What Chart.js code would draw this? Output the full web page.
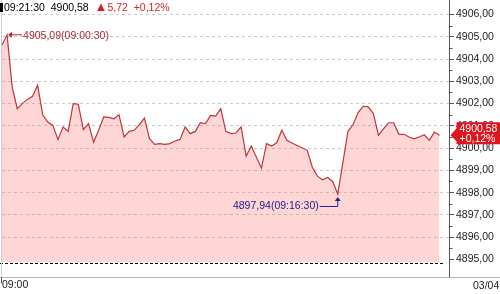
<!DOCTYPE html>
<html>
<head>
<meta charset="utf-8">
<script src="https://cdn.jsdelivr.net/npm/chart.js@4.4.1/dist/chart.umd.min.js"></script>
<style>
html, body { margin: 0; padding: 0; background: #fff; }
#wrap { position: relative; width: 500px; height: 294px; overflow: hidden;
        font-family: "Liberation Sans", Arial, sans-serif; font-size: 10.5px; }
#chart { position: absolute; left: 0; top: 0; }
#head { position: absolute; left: 0; top: 1px; height: 12px; line-height: 12px; white-space: nowrap; }
#head .bar { display: inline-block; width: 3px; height: 9px; background: #000; vertical-align: -1px; margin-right: 1px; }
#head .up { color: #d81e24; }
#head .tri { font-size: 13px; line-height: 12px; }
#date { position: absolute; left: 473px; top: 279px; color: #222; }
</style>
</head>
<body>
<div id="wrap">
  <canvas id="chart" width="500" height="294"></canvas>
  <div id="head"><span class="bar"></span><span id="hTime"></span>&nbsp;&nbsp;<span id="hPrice"></span>&nbsp;&nbsp;<span class="up tri">▲</span><span class="up" id="hChg"></span>&nbsp;&nbsp;<span class="up" id="hPct"></span></div>
  <div id="date"></div>
</div>
<script>
// seconds after 09:00, one tick every 15s
var times = [0, 15, 30, 45, 60, 75, 90, 105, 120, 135, 150, 165, 180, 195, 210, 225, 240, 255, 270, 285,
    300, 315, 330, 345, 360, 375, 390, 405, 420, 435, 450, 465, 480, 495, 510, 525, 540, 555, 570, 585,
    600, 615, 630, 645, 660, 675, 690, 705, 720, 735, 765, 780, 795, 810, 825, 840, 855, 870,
    900, 915, 930, 945, 960, 975, 990, 1020, 1035, 1050, 1065, 1080, 1095, 1110, 1125, 1140, 1155,
    1170, 1185, 1200, 1215, 1230, 1245, 1260, 1275, 1290];
var prices = [4904.63, 4905.09, 4902.75, 4901.77, 4902.00, 4902.19, 4902.33, 4902.82, 4901.50, 4901.17,
    4901.02, 4900.38, 4900.95, 4900.75, 4902.00, 4901.97, 4900.83, 4901.10, 4900.27, 4900.80,
    4901.40, 4901.38, 4901.32, 4901.50, 4900.50, 4900.75, 4900.80, 4901.05, 4901.35, 4900.42,
    4900.17, 4900.20, 4900.17, 4900.20, 4900.32, 4900.39, 4900.95, 4900.65, 4900.75, 4901.14,
    4901.10, 4901.47, 4901.44, 4901.77, 4900.75, 4900.65, 4900.68, 4900.95, 4899.64, 4900.09,
    4899.10, 4900.20, 4900.09, 4900.24, 4900.80, 4900.35, 4900.23, 4900.12,
    4899.90, 4899.14, 4898.74, 4898.58, 4898.68, 4898.50, 4897.94, 4900.75, 4901.05, 4901.60,
    4901.88, 4901.85, 4901.55, 4900.57, 4900.87, 4901.14, 4901.14, 4900.62, 4900.62, 4900.50,
    4900.42, 4900.50, 4900.60, 4900.35, 4900.72, 4900.58];
var yTicks = [4895, 4896, 4897, 4898, 4899, 4900, 4901, 4902, 4903, 4904, 4905, 4906];
var xTicks = [0];
var xTickLabels = ["09:00"];
var dateLabel = "03/04";
var lastTime = "09:21:30";
var lastPrice = 4900.58;
var change = 5.72;
var changePct = 0.12;
var maxNote = "4905,09(09:00:30)";
var minNote = "4897,94(09:16:30)";

function fmt(v) { return v.toFixed(2).replace(".", ","); }

document.getElementById("hTime").textContent = lastTime;
document.getElementById("hPrice").textContent = fmt(lastPrice);
document.getElementById("hChg").textContent = fmt(change);
document.getElementById("hPct").textContent = "+" + fmt(changePct) + "%";
document.getElementById("date").textContent = dateLabel;

var FONT = "'Liberation Sans', Arial, sans-serif";
Chart.defaults.font.family = FONT;
Chart.defaults.font.size = 10.5;

var iMax = prices.indexOf(Math.max.apply(null, prices));
var iMin = prices.indexOf(Math.min.apply(null, prices));

// frame lines, minor ticks, high/low notes and the last-price badge
var decor = {
    id: "decor",
    afterDraw: function (chart) {
        var ctx = chart.ctx, a = chart.chartArea;
        var xs = chart.scales.x, ys = chart.scales.y;
        var base = Math.round(a.bottom) + 14.5;
        ctx.save();
        ctx.lineWidth = 1;

        ctx.strokeStyle = "#000";
        ctx.setLineDash([3, 2]);
        ctx.beginPath();
        ctx.moveTo(0, Math.round(a.bottom) + 0.5);
        ctx.lineTo(a.right - 4, Math.round(a.bottom) + 0.5);
        ctx.stroke();
        ctx.setLineDash([]);

        ctx.strokeStyle = "#c4ccd8";
        ctx.beginPath(); ctx.moveTo(1.5, 0); ctx.lineTo(1.5, base); ctx.stroke();
        ctx.strokeStyle = "#b4b4b4";
        ctx.beginPath(); ctx.moveTo(0, base); ctx.lineTo(500, base); ctx.stroke();
        ctx.strokeStyle = "#555";
        var ax = Math.round(a.right) + 0.5;
        ctx.beginPath(); ctx.moveTo(ax, 0); ctx.lineTo(ax, base); ctx.stroke();
        ctx.beginPath(); ctx.moveTo(1.5, base); ctx.lineTo(1.5, base + 6); ctx.stroke();

        // minor ticks at half steps
        for (var i = 0; i < yTicks.length - 1; i++) {
            var yy = Math.round(ys.getPixelForValue(yTicks[i] + 0.5)) + 0.5;
            ctx.beginPath(); ctx.moveTo(ax, yy); ctx.lineTo(ax + 3, yy); ctx.stroke();
        }

        ctx.font = "10.5px " + FONT;
        ctx.textBaseline = "middle";

        // high
        var hx = xs.getPixelForValue(times[iMax]), hy = ys.getPixelForValue(prices[iMax]);
        ctx.strokeStyle = "#c0282e"; ctx.fillStyle = "#c0282e";
        ctx.beginPath(); ctx.moveTo(hx + 2, hy); ctx.lineTo(hx + 15, hy); ctx.stroke();
        ctx.beginPath(); ctx.moveTo(hx + 1, hy); ctx.lineTo(hx + 5, hy - 3); ctx.lineTo(hx + 5, hy + 3); ctx.closePath(); ctx.fill();
        ctx.fillStyle = "#a82a2a";
        ctx.textAlign = "left";
        ctx.fillText(maxNote, hx + 16, hy + 1);

        // low
        var lx = xs.getPixelForValue(times[iMin]), ly = ys.getPixelForValue(prices[iMin]);
        ctx.strokeStyle = "#22228a"; ctx.fillStyle = "#22228a";
        var lyy = Math.round(ly + 12) + 0.5;
        ctx.beginPath(); ctx.moveTo(lx - 18, lyy); ctx.lineTo(lx, lyy); ctx.lineTo(lx, ly + 5); ctx.stroke();
        ctx.beginPath(); ctx.moveTo(lx, ly + 3); ctx.lineTo(lx - 3, ly + 7); ctx.lineTo(lx + 3, ly + 7); ctx.closePath(); ctx.fill();
        ctx.textAlign = "right";
        ctx.fillText(minNote, lx - 19, lyy);

        // badge
        var by = ys.getPixelForValue(lastPrice);
        ctx.fillStyle = "#e0141c";
        ctx.beginPath();
        ctx.moveTo(ax + 1, by);
        ctx.lineTo(ax + 7, by - 7);
        ctx.lineTo(ax + 7, by - 13);
        ctx.lineTo(500, by - 13);
        ctx.lineTo(500, by + 9);
        ctx.lineTo(ax + 7, by + 9);
        ctx.lineTo(ax + 7, by + 6);
        ctx.closePath();
        ctx.fill();
        ctx.fillStyle = "#fff";
        ctx.textAlign = "left";
        ctx.fillText(fmt(lastPrice), ax + 10, by - 6);
        ctx.fillText("+" + fmt(changePct) + "%", ax + 10, by + 4);
        ctx.restore();
    }
};

new Chart(document.getElementById("chart"), {
    type: "line",
    data: {
        datasets: [{
            data: times.map(function (t, i) { return { x: t, y: prices[i] }; }),
            borderColor: "#bf3538",
            borderWidth: 1.2,
            backgroundColor: "rgba(255,120,120,0.3)",
            fill: "start",
            pointRadius: 0,
            tension: 0
        }]
    },
    options: {
        responsive: false,
        animation: false,
        layout: { padding: { left: 2, top: 3, right: 0, bottom: 0 } },
        plugins: { legend: { display: false }, tooltip: { enabled: false } },
        scales: {
            x: {
                type: "linear",
                min: 0,
                max: 1318,
                afterBuildTicks: function (s) { s.ticks = xTicks.map(function (v) { return { value: v }; }); },
                afterFit: function (s) { s.height = 31.5; s.paddingLeft = 0; s.paddingRight = 0; },
                grid: { display: false },
                border: { display: false },
                ticks: {
                    align: "start",
                    padding: 8,
                    color: "#222",
                    maxRotation: 0,
                    callback: function (v) { var k = xTicks.indexOf(v); return k < 0 ? "" : xTickLabels[k]; }
                }
            },
            y: {
                position: "right",
                min: 4894.86,
                max: 4906.52,
                afterBuildTicks: function (s) { s.ticks = yTicks.map(function (v) { return { value: v }; }); },
                afterFit: function (s) { s.width = 51; s.paddingTop = 0; s.paddingBottom = 0; },
                grid: {
                    color: function (c) { return c.tick && c.tick.value === 4895 ? "rgba(0,0,0,0)" : "#c8c8c8"; },
                    tickColor: "#555",
                    tickLength: 5,
                    tickBorderDash: []
                },
                border: { display: false, dash: [3, 3] },
                ticks: {
                    padding: 2,
                    color: "#222",
                    callback: function (v) { return fmt(v); }
                }
            }
        }
    },
    plugins: [decor]
});
</script>
</body>
</html>
